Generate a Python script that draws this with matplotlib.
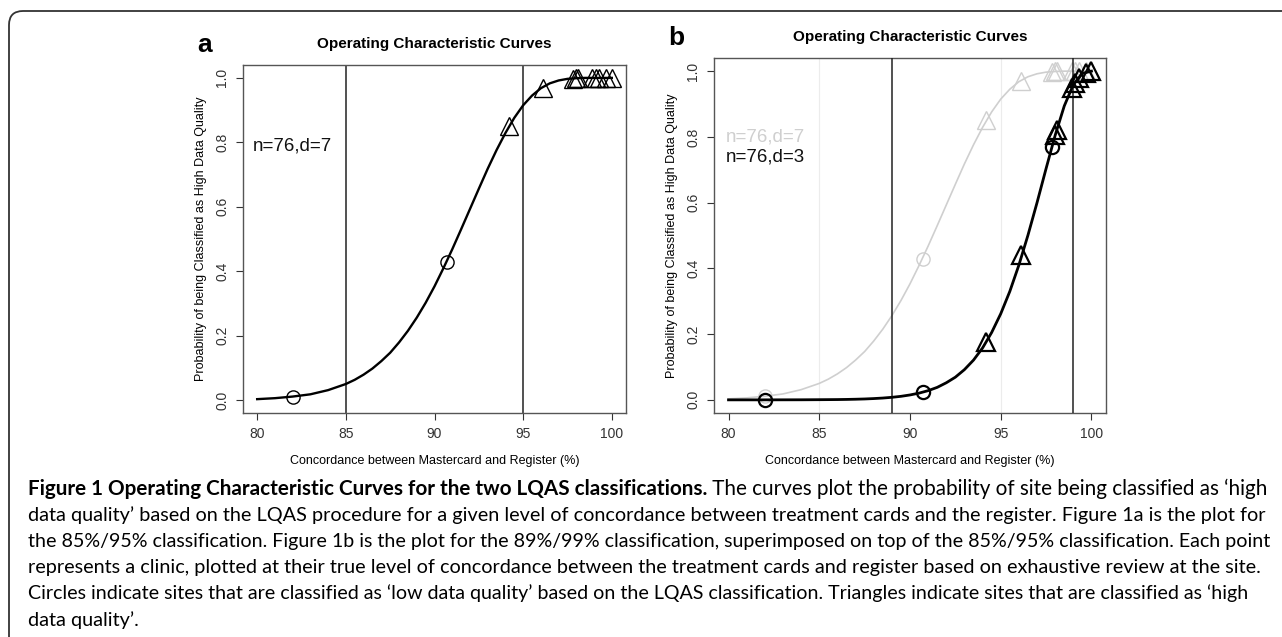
import matplotlib
matplotlib.use("Agg")
import matplotlib.pyplot as plt
from matplotlib.patches import FancyBboxPatch

# ---------------- data ----------------
curve_x = [80, 81, 82, 83, 84, 85, 85.5, 86, 86.5, 87, 87.5, 88, 88.5, 89, 89.5,
           90, 90.5, 91, 91.5, 92, 92.5, 93, 93.5, 94, 94.5, 95, 95.5, 96, 96.5,
           97, 97.5, 98, 98.5, 99, 99.5, 100]
# operating characteristic curve, n=76, d=7 (85%/95%)
curve_d7 = [0.003, 0.006, 0.011, 0.018, 0.031, 0.050, 0.063, 0.079, 0.098, 0.121,
            0.147, 0.179, 0.215, 0.256, 0.302, 0.353, 0.409, 0.468, 0.530, 0.593,
            0.656, 0.718, 0.776, 0.829, 0.876, 0.915, 0.945, 0.968, 0.983, 0.992,
            0.997, 0.999, 1.0, 1.0, 1.0, 1.0]
# operating characteristic curve, n=76, d=3 (89%/99%)
curve_d3 = [0.0, 0.0, 0.0, 0.0001, 0.0002, 0.0005, 0.0007, 0.0009, 0.0013, 0.0019,
            0.0027, 0.0039, 0.0055, 0.0077, 0.0107, 0.0149, 0.0205, 0.028, 0.038,
            0.052, 0.069, 0.092, 0.121, 0.158, 0.205, 0.262, 0.330, 0.410, 0.501,
            0.600, 0.704, 0.805, 0.894, 0.959, 0.993, 1.0]

# sites (true concordance %)
site_x = [82.0, 90.7, 94.2, 96.1, 97.8, 98.0, 98.1, 98.9, 99.1, 99.3, 99.7, 100.0]
site_p_d7 = [0.011, 0.43, 0.85, 0.97, 0.998, 0.999, 1.0, 1.0, 1.0, 1.0, 1.0, 1.0]
site_high_d7 = [False, False, True, True, True, True, True, True, True, True, True, True]
site_p_d3 = [0.0, 0.024, 0.175, 0.44, 0.77, 0.805, 0.82, 0.95, 0.965, 0.98, 0.995, 1.0]
site_high_d3 = [False, False, True, True, False, True, True, True, True, True, True, True]

cut_d7 = [85, 95]
cut_d3 = [89, 99]
x_ticks = [80, 85, 90, 95, 100]
y_ticks = [0.0, 0.2, 0.4, 0.6, 0.8, 1.0]
y_ticklabels = ["0.0", "0.2", "0.4", "0.6", "0.8", "1.0"]

title = "Operating Characteristic Curves"
xlabel = "Concordance between Mastercard and Register (%)"
ylabel = "Probability of being Classified as High Data Quality"
label_d7 = "n=76,d=7"
label_d3 = "n=76,d=3"

caption_bold = "Figure 1 Operating Characteristic Curves for the two LQAS classifications."
caption_lines = [
    " The curves plot the probability of site being classified as \u2018high",
    "data quality\u2019 based on the LQAS procedure for a given level of concordance between treatment cards and the register. Figure 1a is the plot for",
    "the 85%/95% classification. Figure 1b is the plot for the 89%/99% classification, superimposed on top of the 85%/95% classification. Each point",
    "represents a clinic, plotted at their true level of concordance between the treatment cards and register based on exhaustive review at the site.",
    "Circles indicate sites that are classified as \u2018low data quality\u2019 based on the LQAS classification. Triangles indicate sites that are classified as \u2018high",
    "data quality\u2019.",
]

# ---------------- figure ----------------
W, H = 1282, 637
fig = plt.figure(figsize=(W / 100, H / 100), dpi=100)
plt.rcParams['font.family'] = ['Liberation Sans', 'DejaVu Sans']

# pixel overlay for frame / panel letters / caption
ax0 = fig.add_axes([0, 0, 1, 1], zorder=-1)
ax0.set_xlim(0, W)
ax0.set_ylim(H, 0)
ax0.axis("off")
ax0.add_patch(FancyBboxPatch((9, 11), 1400, 700, boxstyle="round,pad=0,rounding_size=14",
                             fc="white", ec="#333333", lw=1.3))

def px_axes(left, top, right, bottom):
    return fig.add_axes([left / W, (H - bottom) / H, (right - left) / W, (bottom - top) / H])

def style(ax):
    ax.set_xlim(79.2, 100.8)
    ax.set_ylim(-0.04, 1.04)
    ax.set_xticks(x_ticks)
    ax.set_xticklabels([str(t) for t in x_ticks])
    ax.set_yticks(y_ticks)
    ax.set_yticklabels(y_ticklabels, rotation=90, va="center")
    ax.tick_params(direction="out", length=5, width=0.8, colors="#333333",
                   labelsize=10, pad=5)
    for s in ax.spines.values():
        s.set_color("#555555")
        s.set_linewidth(1.0)
    ax.set_title(title, fontsize=11, fontweight="bold", pad=12)
    ax.set_xlabel(xlabel, fontsize=9, labelpad=10)
    ax.set_ylabel(ylabel, fontsize=9, labelpad=6)

def draw_sites(ax, xs, ps, high, color, lw, ms_t, ms_c, z):
    tx = [x for x, h in zip(xs, high) if h]
    tp = [p for p, h in zip(ps, high) if h]
    cx = [x for x, h in zip(xs, high) if not h]
    cp = [p for p, h in zip(ps, high) if not h]
    ax.plot(tx, tp, ls="none", marker="^", ms=ms_t, mfc="none", mec=color, mew=lw, zorder=z)
    ax.plot(cx, cp, ls="none", marker="o", ms=ms_c, mfc="none", mec=color, mew=lw, zorder=z)

# ---- panel a ----
axa = px_axes(243, 65, 626, 413)
style(axa)
for c in cut_d7:
    axa.axvline(c, color="#222222", lw=1.1, zorder=1)
axa.plot(curve_x, curve_d7, color="black", lw=1.7, zorder=2, solid_joinstyle="round")
draw_sites(axa, site_x, site_p_d7, site_high_d7, "black", 1.0, 12.5, 9.5, 3)
axa.text(79.75, 0.79, label_d7, fontsize=13.5, va="center", ha="left", color="#111111")

# ---- panel b ----
axb = px_axes(714, 58, 1106, 413)
style(axb)
for c in cut_d7:
    axb.axvline(c, color="#ececec", lw=0.8, zorder=1)
axb.plot(curve_x, curve_d7, color="#cfcfcf", lw=1.2, zorder=2, solid_joinstyle="round")
draw_sites(axb, site_x, site_p_d7, site_high_d7, "#cfcfcf", 1.0, 12.5, 9.5, 2)
for c in cut_d3:
    axb.axvline(c, color="#222222", lw=1.1, zorder=3)
axb.plot(curve_x, curve_d3, color="black", lw=2.0, zorder=4, solid_joinstyle="round")
draw_sites(axb, site_x, site_p_d3, site_high_d3, "black", 1.6, 12.5, 9.5, 5)
axb.text(79.85, 0.80, label_d7, fontsize=13.5, va="center", ha="left", color="#cfcfcf")
axb.text(79.85, 0.74, label_d3, fontsize=13.5, va="center", ha="left", color="#111111")

# panel letters
ax0.text(205, 45, "a", fontsize=19, fontweight="bold", ha="center", va="center")
ax0.text(676, 38, "b", fontsize=19, fontweight="bold", ha="center", va="center")

# ---------------- caption ----------------
cap_font = ["Lato", "DejaVu Sans"]
line_y = [487, 514, 540, 566, 592, 619]
line_end = [1262, 1262, 1263, 1258, 1246, None]
fs = 12.0
t_bold = ax0.text(28, line_y[0], caption_bold, fontsize=fs, fontweight="bold",
                  family=cap_font, va="center_baseline", ha="left")
t_lines = [ax0.annotate(caption_lines[0], xy=(1, 0), xycoords=t_bold, va="bottom",
                        ha="left", fontsize=fs, family=cap_font)]
for y, s in zip(line_y[1:], caption_lines[1:]):
    t_lines.append(ax0.text(28, y, s, fontsize=fs, family=cap_font,
                            va="center_baseline", ha="left"))

# fit each caption line width to the reference
fig.canvas.draw()
r = fig.canvas.get_renderer()
scales = []
w0 = t_lines[0].get_window_extent(r).x1 - t_bold.get_window_extent(r).x0
scales.append((line_end[0] - 28) / w0)
for t, e in zip(t_lines[1:5], line_end[1:5]):
    scales.append((e - 28) / t.get_window_extent(r).width)
mean_s = sum(scales) / len(scales)
t_bold.set_fontsize(fs * scales[0])
t_lines[0].set_fontsize(fs * scales[0])
for t, s in zip(t_lines[1:5], scales[1:]):
    t.set_fontsize(fs * s)
t_lines[5].set_fontsize(fs * mean_s)

fig.savefig("out.png", dpi=100)
